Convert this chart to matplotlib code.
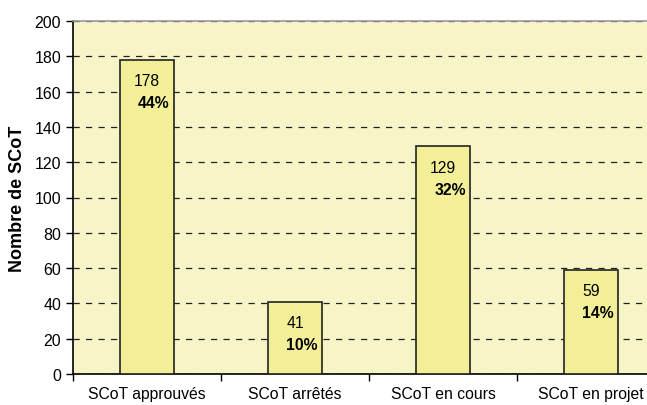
import matplotlib.pyplot as plt
import numpy as np

categories = ["SCoT approuvés", "SCoT arrêtés", "SCoT en cours", "SCoT en projet"]
counts = [178, 41, 129, 59]
shares = ["44%", "10%", "32%", "14%"]

plt.rcParams["font.family"] = ["Liberation Sans", "DejaVu Sans"]

fig = plt.figure(figsize=(6.47, 4.06), dpi=100)
ax = fig.add_axes([73 / 647, 1 - 375 / 406, 592 / 647, 353 / 406])
ax.set_facecolor("#f7f5c8")

x = np.arange(len(categories))
ax.bar(x, counts, width=0.36, color="#f2ef98", edgecolor="#222222", linewidth=1.2, zorder=3)

for xi, n, pct in zip(x, counts, shares):
    ax.annotate(str(n), (xi, n), xytext=(0, -15), textcoords="offset points",
                ha="center", va="center", fontsize=11.3, zorder=4)
    ax.annotate(pct, (xi, n), xytext=(5, -31), textcoords="offset points",
                ha="center", va="center", fontsize=11.3, fontweight="bold", zorder=4)

ax.set_xlim(-0.5, 3.5)
ax.set_ylim(0, 200)
ax.set_yticks(range(0, 201, 20))
ax.set_xticks(x)
ax.set_xticklabels(categories)
ax.set_xticks([-0.5, 0.5, 1.5, 2.5, 3.5], minor=True)
ax.tick_params(axis="x", which="major", length=0, pad=9, labelsize=11.3)
ax.tick_params(axis="x", which="minor", length=5, width=1, direction="out")
ax.tick_params(axis="y", length=5, width=1, direction="out", labelsize=11.5)

ax.grid(axis="y", color="#222222", linestyle=(0, (5, 5)), linewidth=0.9, zorder=1)
ax.spines["right"].set_visible(False)
ax.spines["top"].set_color("#9a9a9a")
ax.spines["top"].set_linewidth(1.2)
ax.spines["left"].set_linewidth(1.2)
ax.spines["bottom"].set_linewidth(1.2)

ax.set_ylabel("Nombre de SCoT", fontsize=13, fontweight="bold", labelpad=6)

fig.savefig("out.png", dpi=100)
